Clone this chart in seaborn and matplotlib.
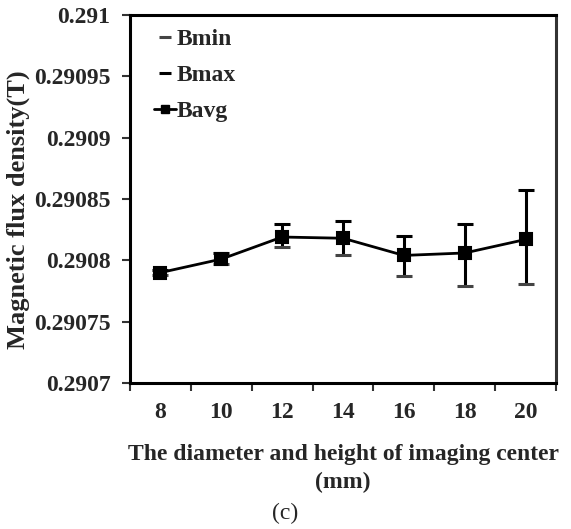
import matplotlib
matplotlib.use("Agg")
import matplotlib.pyplot as plt
from matplotlib.lines import Line2D
import numpy as np
import pandas as pd
import seaborn as sns

# Imaging-centre size (mm) and measured flux density (T)
sizes = ["8", "10", "12", "14", "16", "18", "20"]
b_avg = [0.290790, 0.290801, 0.290819, 0.290818, 0.290804, 0.290806, 0.290817]
b_min = [0.290788, 0.290797, 0.290811, 0.290804, 0.290787, 0.290779, 0.290781]
b_max = [0.290792, 0.290806, 0.290830, 0.290832, 0.290820, 0.290830, 0.290857]
y_ticks = [0.2907, 0.29075, 0.2908, 0.29085, 0.2909, 0.29095, 0.291]
y_tick_labels = ["0.2907", "0.29075", "0.2908", "0.29085", "0.2909", "0.29095", "0.291"]

df = pd.DataFrame({"size": sizes, "avg": b_avg, "min": b_min, "max": b_max})

sns.set_theme(style="white")
plt.rcParams["font.family"] = ["Liberation Serif", "DejaVu Serif"]
plt.rcParams["font.weight"] = "bold"

fig = plt.figure(figsize=(5.71, 5.29), dpi=100)
ax = fig.add_axes([130 / 571, 1 - 383 / 529, (556 - 130) / 571, (383 - 15) / 529])

pos = np.arange(len(sizes))
# high-low lines between min and max
ax.vlines(pos, df["min"], df["max"], color="black", lw=2.2, zorder=2)

sns.pointplot(data=df, x="size", y="min", order=sizes, ax=ax, color="#444444",
              markers="_", linestyles="none", markersize=11, markeredgewidth=2.2,
              zorder=3)
sns.pointplot(data=df, x="size", y="max", order=sizes, ax=ax, color="black",
              markers="_", linestyles="none", markersize=11, markeredgewidth=2.2,
              zorder=3)
sns.pointplot(data=df, x="size", y="avg", order=sizes, ax=ax, color="black",
              markers="s", linestyles="-", markersize=8, linewidth=2.0,
              zorder=4)

ax.set_xlim(-0.5, len(sizes) - 0.5)
ax.set_ylim(0.2907, 0.291)
ax.set_yticks(y_ticks)
ax.set_yticklabels(y_tick_labels)
ax.set_xticks(pos)
ax.set_xticklabels(sizes)
ax.set_xticks(np.arange(-0.5, len(sizes)), minor=True)

ax.tick_params(axis="x", which="major", length=0, pad=14, labelsize=17)
ax.tick_params(axis="x", which="minor", length=6, width=1.5, direction="out",
               color="#333333", bottom=True)
ax.tick_params(axis="y", which="major", length=6, width=1.5, direction="out",
               color="#333333", left=True, labelsize=17, pad=8)
for lab in ax.get_xticklabels() + ax.get_yticklabels():
    lab.set_fontweight("bold")

for side in ["left", "bottom", "top"]:
    ax.spines[side].set_color("black")
    ax.spines[side].set_linewidth(2.2)
ax.spines["right"].set_color("#333333")
ax.spines["right"].set_linewidth(2.2)

ax.set_xlabel("The diameter and height of imaging center\n(mm)", fontsize=17,
              fontweight="bold", labelpad=15, linespacing=1.4)
ax.set_ylabel("Magnetic flux density(T)", fontsize=19, fontweight="bold")
ax.yaxis.set_label_coords(-0.235, 0.47)

handles = [
    Line2D([], [], color="#444444", marker="_", linestyle="none",
           markersize=9, markeredgewidth=2.2),
    Line2D([], [], color="black", marker="_", linestyle="none",
           markersize=9, markeredgewidth=2.2),
    Line2D([], [], color="black", marker="s", linestyle="-",
           markersize=6, linewidth=2.0),
]
ax.legend(handles, ["Bmin", "Bmax", "Bavg"], loc="upper left", frameon=False,
          prop={"weight": "bold", "size": 17}, handlelength=0.9,
          handletextpad=0.05, labelspacing=0.62, borderaxespad=0.0,
          bbox_to_anchor=(0.035, 0.989))

fig.text(0.5, 1 - 513 / 529, "(c)", ha="center", va="center", fontsize=17,
         fontweight="normal")

fig.savefig("out.png", dpi=100)
